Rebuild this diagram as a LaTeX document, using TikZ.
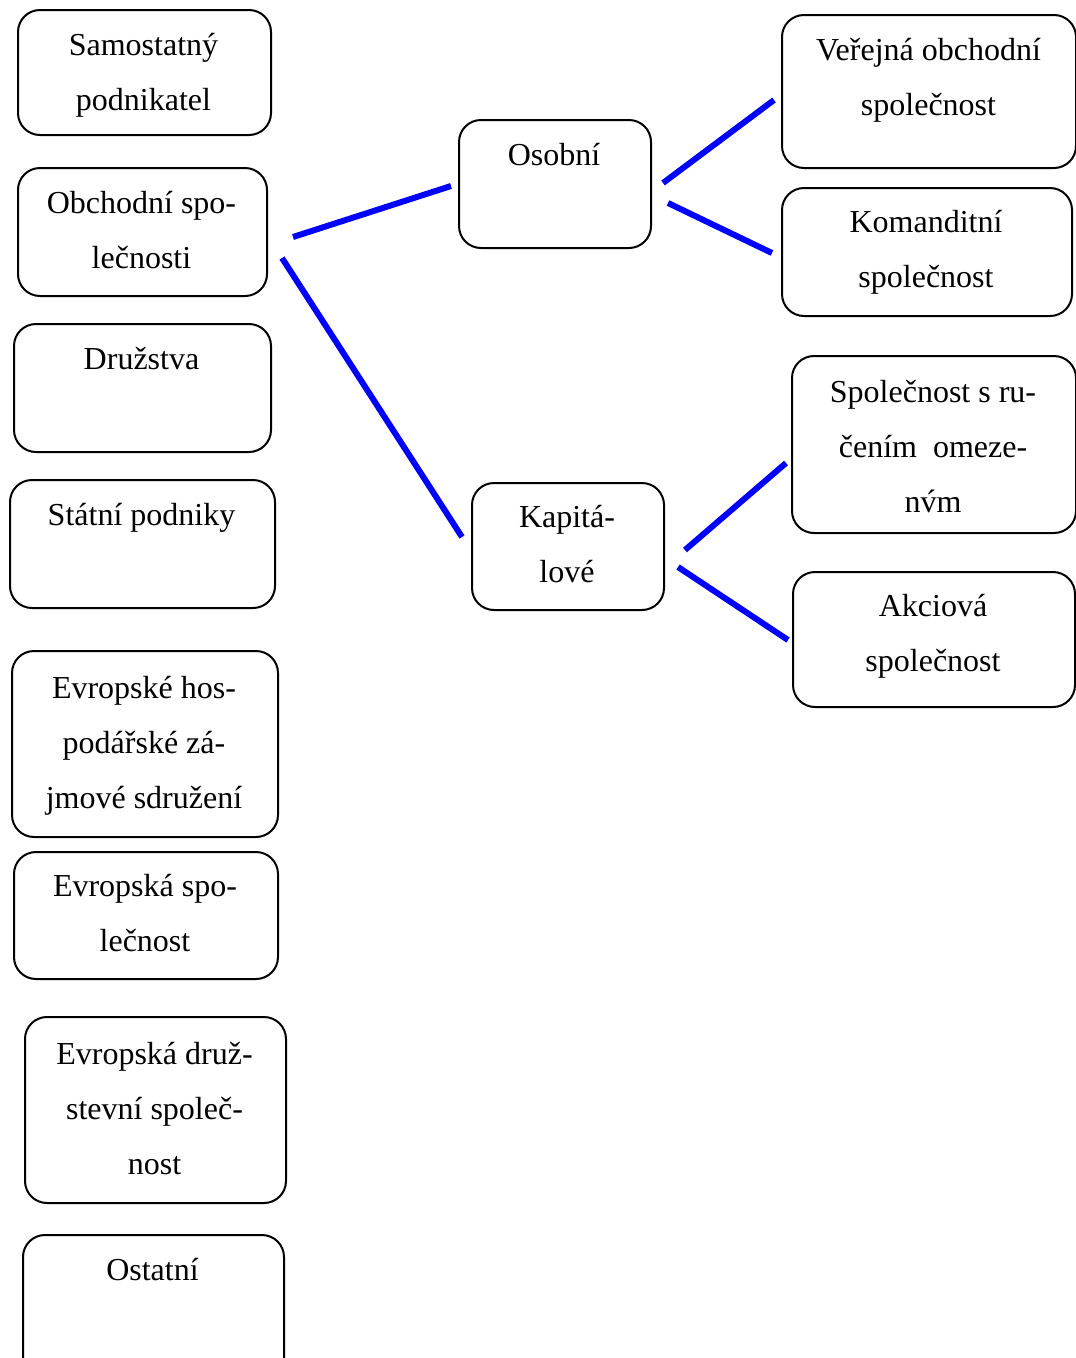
\documentclass[tikz,border=0pt]{standalone}
\usepackage{fontspec}
\setmainfont{Liberation Serif}
\begin{document}
\begin{tikzpicture}[x=1pt,y=-1pt,
  box/.style={draw=black,line width=2pt,rounded corners=22pt,inner sep=0pt,anchor=north west},
  txt/.style={anchor=base,align=center,inner sep=0pt,font=\fontsize{32}{55}\selectfont},
  link/.style={draw=blue,line width=6pt}]
\useasboundingbox (0,0) rectangle (1076,1358);
\fill[white] (0,0) rectangle (1076,1358);
% left column (text anchored at the baseline of its last line)
\node[box,minimum width=253pt,minimum height=125pt] (b1) at (17,9) {};
\node[txt] (t1) at (143.5,110) {Samostatný\\podnikatel};
\node[box,minimum width=249pt,minimum height=128pt] (b2) at (17,167) {};
\node[txt] (t2) at (141.5,268) {Obchodní spo-\\lečnosti};
\node[box,minimum width=257pt,minimum height=128pt] (b3) at (13,323) {};
\node[txt] (t3) at (141.5,369) {Družstva};
\node[box,minimum width=265pt,minimum height=128pt] (b4) at (9,479) {};
\node[txt] (t4) at (141.5,525) {Státní podniky};
\node[box,minimum width=266pt,minimum height=186pt] (b5) at (11,650) {};
\node[txt] (t5) at (144,808) {Evropské hos-\\podářské zá-\\jmové sdružení};
\node[box,minimum width=264pt,minimum height=127pt] (b6) at (13,851) {};
\node[txt] (t6) at (145,951) {Evropská spo-\\lečnost};
\node[box,minimum width=261pt,minimum height=186pt] (b7) at (24,1016) {};
\node[txt] (t7) at (154.5,1174) {Evropská druž-\\stevní společ-\\nost};
\node[box,minimum width=261pt,minimum height=145pt] (b8) at (22,1234) {};
\node[txt] (t8) at (152.5,1280) {Ostatní};
% middle
\node[box,minimum width=192pt,minimum height=128pt] (b9) at (458,119) {};
\node[txt] (t9) at (554,165) {Osobní};
\node[box,minimum width=192pt,minimum height=127pt] (b10) at (471,482) {};
\node[txt] (t10) at (567,582) {Kapitá-\\lové};
% right
\node[box,minimum width=294pt,minimum height=153pt] (b11) at (781,14) {};
\node[txt] (t11) at (928.5,115) {Veřejná obchodní\\společnost};
\node[box,minimum width=290pt,minimum height=128pt] (b12) at (781,187) {};
\node[txt] (t12) at (926,287) {Komanditní\\společnost};
\node[box,minimum width=284pt,minimum height=177pt] (b13) at (791,355) {};
\node[txt] (t13) at (933,512) {Společnost s ru-\\čením\ \ omeze-\\nv́m};
\node[box,minimum width=282pt,minimum height=135pt] (b14) at (792,571) {};
\node[txt] (t14) at (933,671) {Akciová\\společnost};
% connector ends
\coordinate (a1) at (293,237); \coordinate (a2) at (451,186);
\coordinate (c1) at (282,258); \coordinate (c2) at (462,537);
\coordinate (d1) at (663,183); \coordinate (d2) at (774,100);
\coordinate (e1) at (668,203); \coordinate (e2) at (772,253);
\coordinate (f1) at (685,550); \coordinate (f2) at (786,463);
\coordinate (g1) at (678,567); \coordinate (g2) at (788,640);
\draw[link] (a1) -- (a2);
\draw[link] (c1) -- (c2);
\draw[link] (d1) -- (d2);
\draw[link] (e1) -- (e2);
\draw[link] (f1) -- (f2);
\draw[link] (g1) -- (g2);
\end{tikzpicture}
\end{document}
